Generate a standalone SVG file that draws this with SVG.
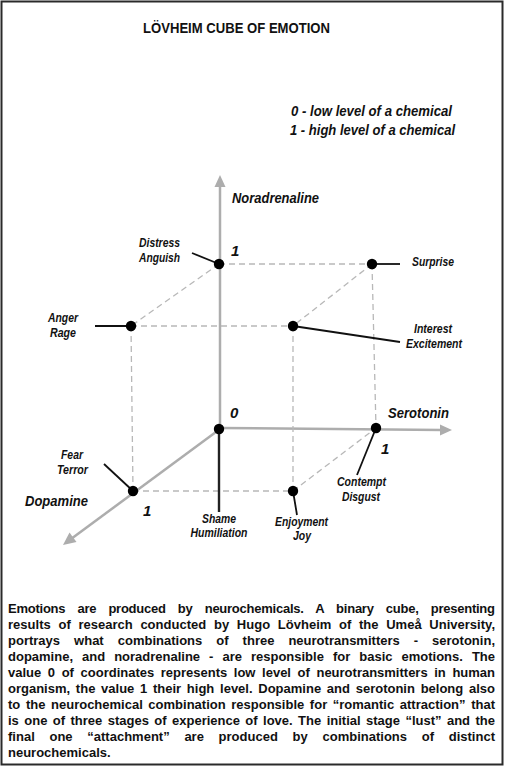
<svg xmlns="http://www.w3.org/2000/svg" width="505" height="767" viewBox="0 0 505 767">
<style>
.frame{fill:#fff;stroke:#2a2a2a;stroke-width:2}
.title{font-family:"Liberation Sans",Arial,sans-serif;font-weight:bold;font-size:15.5px;fill:#111}
.legend{font-family:"Liberation Sans",Arial,sans-serif;font-weight:bold;font-style:italic;font-size:14.5px;fill:#111}
.axlab{font-family:"Liberation Sans",Arial,sans-serif;font-weight:bold;font-style:italic;font-size:15.5px;fill:#111}
.num{font-family:"Liberation Sans",Arial,sans-serif;font-weight:bold;font-style:italic;font-size:15px;fill:#111}
.lab{font-family:"Liberation Sans",Arial,sans-serif;font-weight:bold;font-style:italic;font-size:12px;fill:#111;text-anchor:middle}
.labl{font-family:"Liberation Sans",Arial,sans-serif;font-weight:bold;font-style:italic;font-size:12px;fill:#111}
.body{font-family:"Liberation Sans",Arial,sans-serif;font-weight:bold;font-size:13px;fill:#111}
.axis{stroke:#adadad;stroke-width:2.5;fill:none}
.arrow{fill:#adadad}
.dash{stroke:#b8b8b8;stroke-width:1.3;stroke-dasharray:6 4;fill:none}
.lead{stroke:#111;stroke-width:1.8;fill:none}
.dot{fill:#000}
</style>
<rect class="frame" x="1.5" y="1.5" width="501" height="763"/>
<text class="title" x="143" y="33" textLength="187" lengthAdjust="spacingAndGlyphs">LÖVHEIM CUBE OF EMOTION</text>
<g id="legend">
<text class="legend" x="291" y="116" textLength="161" lengthAdjust="spacingAndGlyphs">0 - low level of a chemical</text>
<text class="legend" x="290" y="135" textLength="165" lengthAdjust="spacingAndGlyphs">1 - high level of a chemical</text>
</g>
<g id="connectors">
<line class="axis" x1="220" y1="429" x2="220" y2="184"/>
<polygon class="arrow" points="220,175 214.5,187 225.5,187"/>
<line class="axis" x1="220" y1="428" x2="442" y2="430"/>
<polygon class="arrow" points="452,430 440,424.5 440,435.5"/>
<line class="axis" x1="220" y1="429" x2="71" y2="539"/>
<polygon class="arrow" points="63,545 69.5,532.5 76.5,542"/>
<line class="dash" x1="219" y1="264" x2="372" y2="264"/>
<line class="dash" x1="219" y1="264" x2="131" y2="326"/>
<line class="dash" x1="372" y1="264" x2="293" y2="326"/>
<line class="dash" x1="131" y1="326" x2="293" y2="326"/>
<line class="dash" x1="131" y1="326" x2="133" y2="491"/>
<line class="dash" x1="293" y1="326" x2="293" y2="491"/>
<line class="dash" x1="372" y1="264" x2="376" y2="428"/>
<line class="dash" x1="133" y1="491" x2="293" y2="491"/>
<line class="dash" x1="293" y1="491" x2="376" y2="428"/>
<line class="lead" x1="192" y1="253" x2="219" y2="264"/>
<line class="lead" x1="372" y1="264" x2="400" y2="264"/>
<line class="lead" x1="95" y1="326" x2="131" y2="326"/>
<line class="lead" x1="293" y1="326" x2="400" y2="342"/>
<line class="lead" x1="104" y1="464" x2="133" y2="491"/>
<line class="lead" x1="219" y1="429" x2="219" y2="512" style="stroke-width:2.4;stroke:#222"/>
<line class="lead" x1="293" y1="491" x2="297" y2="515"/>
<line class="lead" x1="376" y1="428" x2="357" y2="475"/>
</g>
<g id="axis-labels">
<text class="axlab" x="232" y="203" textLength="87" lengthAdjust="spacingAndGlyphs">Noradrenaline</text>
<text class="axlab" x="388" y="418" textLength="61" lengthAdjust="spacingAndGlyphs">Serotonin</text>
<text class="axlab" x="25" y="506" textLength="63" lengthAdjust="spacingAndGlyphs">Dopamine</text>
<text class="num" x="230" y="418">0</text>
<text class="num" x="231" y="256">1</text>
<text class="num" x="143" y="516">1</text>
<text class="num" x="381" y="454">1</text>
</g>
<g id="node-shame">
<circle class="dot" cx="219" cy="429" r="5.2"/>
<text class="lab" x="219" y="523" textLength="34" lengthAdjust="spacingAndGlyphs">Shame</text>
<text class="lab" x="219" y="537" textLength="57" lengthAdjust="spacingAndGlyphs">Humiliation</text>
</g>
<g id="node-distress">
<circle class="dot" cx="219" cy="264" r="5.2"/>
<text class="lab" x="159.5" y="247" textLength="41" lengthAdjust="spacingAndGlyphs">Distress</text>
<text class="lab" x="159.5" y="262" textLength="41" lengthAdjust="spacingAndGlyphs">Anguish</text>
</g>
<g id="node-surprise">
<circle class="dot" cx="372" cy="264" r="5.2"/>
<text class="labl" x="412" y="266" textLength="42" lengthAdjust="spacingAndGlyphs">Surprise</text>
</g>
<g id="node-anger">
<circle class="dot" cx="131" cy="326" r="5.2"/>
<text class="lab" x="63" y="322" textLength="30" lengthAdjust="spacingAndGlyphs">Anger</text>
<text class="lab" x="63" y="337" textLength="26" lengthAdjust="spacingAndGlyphs">Rage</text>
</g>
<g id="node-interest">
<circle class="dot" cx="293" cy="326" r="5.2"/>
<text class="lab" x="433" y="333" textLength="38" lengthAdjust="spacingAndGlyphs">Interest</text>
<text class="lab" x="434" y="348" textLength="56" lengthAdjust="spacingAndGlyphs">Excitement</text>
</g>
<g id="node-fear">
<circle class="dot" cx="133" cy="491" r="5.2"/>
<text class="lab" x="72" y="459" textLength="22" lengthAdjust="spacingAndGlyphs">Fear</text>
<text class="lab" x="72.5" y="474" textLength="31" lengthAdjust="spacingAndGlyphs">Terror</text>
</g>
<g id="node-enjoyment">
<circle class="dot" cx="293" cy="491" r="5.2"/>
<text class="lab" x="301.5" y="526" textLength="53" lengthAdjust="spacingAndGlyphs">Enjoyment</text>
<text class="lab" x="302" y="540" textLength="18" lengthAdjust="spacingAndGlyphs">Joy</text>
</g>
<g id="node-contempt">
<circle class="dot" cx="376" cy="428" r="5.2"/>
<text class="lab" x="361.5" y="486" textLength="49" lengthAdjust="spacingAndGlyphs">Contempt</text>
<text class="lab" x="361" y="501" textLength="38" lengthAdjust="spacingAndGlyphs">Disgust</text>
</g>
<g id="description">
<text class="body" x="8" y="613" word-spacing="8.8" textLength="487" lengthAdjust="spacing">Emotions are produced by neurochemicals. A binary cube, presenting</text>
<text class="body" x="8" y="629" word-spacing="4.0" textLength="487" lengthAdjust="spacing">results of research conducted by Hugo Lövheim of the Umeå University,</text>
<text class="body" x="8" y="645" word-spacing="10.4" textLength="487" lengthAdjust="spacing">portrays what combinations of three neurotransmitters - serotonin,</text>
<text class="body" x="8" y="661" word-spacing="5.4" textLength="487" lengthAdjust="spacing">dopamine, and noradrenaline - are responsible for basic emotions. The</text>
<text class="body" x="8" y="677" word-spacing="3.0" textLength="487" lengthAdjust="spacing">value 0 of coordinates represents low level of neurotransmitters in human</text>
<text class="body" x="8" y="693" word-spacing="2.1" textLength="487" lengthAdjust="spacing">organism, the value 1 their high level. Dopamine and serotonin belong also</text>
<text class="body" x="8" y="709" word-spacing="2.0" textLength="487" lengthAdjust="spacing">to the neurochemical combination responsible for “romantic attraction” that</text>
<text class="body" x="8" y="725" word-spacing="1.8" textLength="487" lengthAdjust="spacing">is one of three stages of experience of love. The initial stage “lust” and the</text>
<text class="body" x="8" y="741" word-spacing="11.1" textLength="487" lengthAdjust="spacing">final one “attachment” are produced by combinations of distinct</text>
<text class="body" x="8" y="757">neurochemicals.</text>
</g>
</svg>
